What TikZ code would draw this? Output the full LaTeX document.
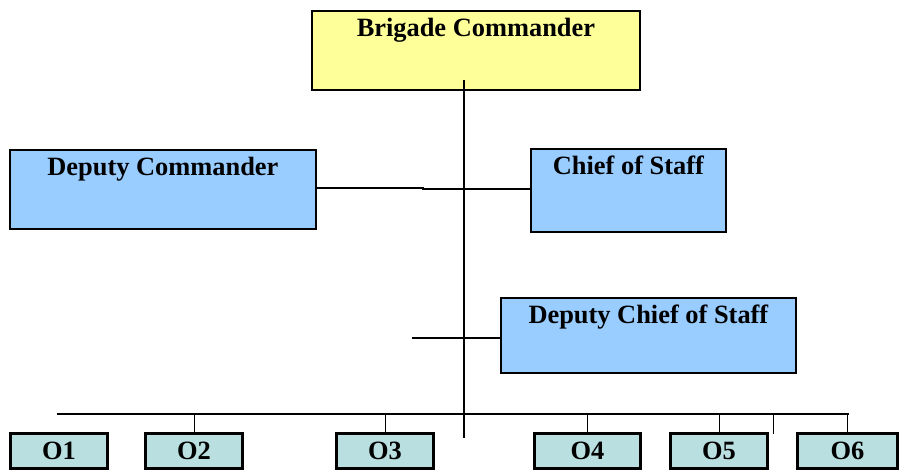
\documentclass[tikz,border=0pt]{standalone}
\usepackage{fontspec}
\setmainfont{Liberation Serif}
\definecolor{cmdyellow}{HTML}{FFFF99}
\definecolor{staffblue}{HTML}{99CCFF}
\definecolor{offteal}{HTML}{B9DFE0}
\begin{document}
\begin{tikzpicture}[x=1pt,y=-1pt,
  box/.style={draw=black, line width=1.8pt, rectangle, inner sep=0pt, anchor=north west},
  ttl/.style={font=\fontsize{26.4}{30}\selectfont\bfseries, inner sep=0pt, anchor=north},
  obox/.style={draw=black, line width=3pt, fill=offteal, rectangle, inner sep=0pt, anchor=north west,
    minimum width=95pt, minimum height=35pt, font=\fontsize{26.4}{30}\selectfont\bfseries},
  conn/.style={draw=black, line width=1.6pt},
  tick/.style={draw=black, line width=1pt}]
\useasboundingbox (0,0) rectangle (907,472);
% top boxes
\node[box, fill=cmdyellow, minimum width=328pt, minimum height=79pt] (bc) at (311,10) {};
\node[ttl] (bct) at ([yshift=-8pt]bc.north) {Brigade Commander};
\node[box, fill=staffblue, minimum width=306pt, minimum height=79pt] (dc) at (9,149) {};
\node[ttl] (dct) at ([yshift=-8pt]dc.north) {Deputy Commander};
\node[box, fill=staffblue, minimum width=195pt, minimum height=83pt] (cos) at (530,148) {};
\node[ttl] (cost) at ([yshift=-8pt]cos.north) {Chief of Staff};
\node[box, fill=staffblue, minimum width=295pt, minimum height=75pt] (dcos) at (500,297) {};
\node[ttl] (dcost) at ([yshift=-8pt]dcos.north) {Deputy Chief of Staff};
% office boxes
\node[obox, minimum width=97pt] (o1) at (9,432) {O1};
\node[obox, minimum width=97pt] (o2) at (144,432) {O2};
\node[obox, minimum width=97pt] (o3) at (335,432) {O3};
\node[obox, minimum width=106pt] (o4) at (533,432) {O4};
\node[obox, minimum width=97pt] (o5) at (669,432) {O5};
\node[obox, minimum width=100pt] (o6) at (796,432) {O6};
% connectors
\coordinate (spTop) at (464,80);
\coordinate (spBot) at (464,438);
\coordinate (jog) at (423,188);
\coordinate (dcosL) at (412,338);
\coordinate (busL) at (57,414);
\coordinate (busR) at (849,414);
\coordinate (xTopE) at (773,414);
\coordinate (xBotE) at (773,434);
\draw[conn] (spTop) -- (spBot);
\draw[conn] (dc.east |- jog) -- (jog) -- ++(0,1) -- (cos.west |- 0,189);
\draw[conn] (dcosL) -- (dcos.west |- dcosL);
\draw[conn] (busL) -- (busR);
\draw[tick] (o2.north) -- (o2.north |- busL);
\draw[tick] (o3.north) -- (o3.north |- busL);
\draw[tick] (o4.north) -- (o4.north |- busL);
\draw[tick] (o5.north) -- (o5.north |- busL);
\draw[tick] (o6.north) -- (o6.north |- busL);
\draw[tick] (xTopE) -- (xBotE);
\end{tikzpicture}
\end{document}
